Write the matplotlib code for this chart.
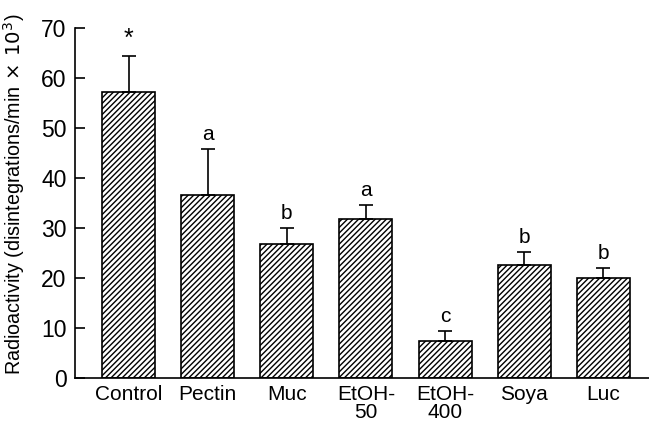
import numpy as np
import matplotlib
matplotlib.use("Agg")
import matplotlib.pyplot as plt

plt.rcParams['font.family'] = ['Liberation Sans', 'DejaVu Sans']
plt.rcParams['hatch.linewidth'] = 1.0

groups = ["Control", "Pectin", "Muc", "EtOH-\n50", "EtOH-\n400", "Soya", "Luc"]
means = [57.2, 36.6, 26.8, 31.7, 7.3, 22.5, 20.0]
sem = [7.2, 9.1, 3.2, 2.8, 2.0, 2.7, 2.0]
letters = ["*", "a", "b", "a", "c", "b", "b"]

fig = plt.figure(figsize=(6.49, 4.24), dpi=100)
ax = fig.add_axes([0.1156, 0.1085, 0.8844, 0.8255])

x = np.arange(len(groups))
ax.bar(x, means, width=0.67, color="white", edgecolor="black", linewidth=1.2,
       hatch="//////", zorder=2)
ax.errorbar(x, means, yerr=[np.zeros(len(sem)), sem], fmt="none", ecolor="black",
            elinewidth=1.2, capsize=5, capthick=1.2, zorder=3)

for xi, m, s, lab in zip(x, means, sem, letters):
    ax.text(xi, m + s + 1.0, lab, ha="center", va="bottom",
            fontsize=18 if lab == "*" else 15)

ax.set_xlim(-0.68, 6.58)
ax.set_ylim(0, 70)
ax.set_yticks(range(0, 71, 10))
ax.set_xticks(x)
ax.set_xticklabels(groups, fontsize=15, linespacing=0.95)
ax.tick_params(axis="x", length=0, pad=5)
ax.tick_params(axis="y", direction="in", length=7, width=1.2, labelsize=16.5, pad=6)

# shrink the y label until it spans about 362 px, like the reference
ylab = ax.set_ylabel(r"Radioactivity (disintegrations/min$\,\times\,10^3$)", fontsize=15)
fig.canvas.draw()
renderer = fig.canvas.get_renderer()
h = ylab.get_window_extent(renderer).height
ylab.set_fontsize(15 * 362.0 / h)
ax.yaxis.set_label_coords(-0.083, 0.525)

for side in ("top", "right"):
    ax.spines[side].set_visible(False)
ax.spines["left"].set_linewidth(1.2)
ax.spines["bottom"].set_linewidth(1.2)

fig.savefig("out.png", dpi=100)
